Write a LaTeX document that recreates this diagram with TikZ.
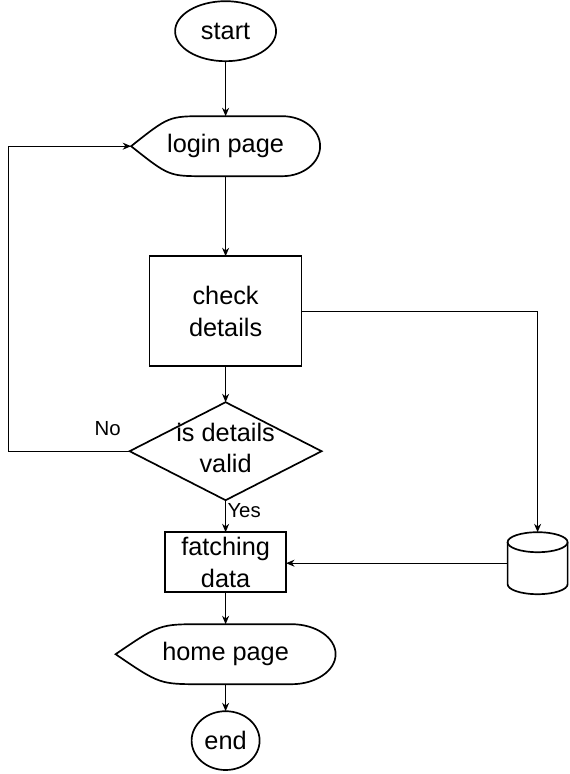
\documentclass[tikz,border=0pt]{standalone}
\usepackage{fontspec}
\setmainfont{Liberation Sans}
\usetikzlibrary{shapes.geometric,arrows.meta,positioning,calc}

\begin{document}
\begin{tikzpicture}[
  termbox/.style={draw, ellipse, line width=1.2pt, inner sep=0pt, outer sep=0pt, font=\fontsize{18}{22.5}\selectfont},
  procbox/.style={draw, rectangle, line width=1.2pt, inner sep=0pt, outer sep=0pt, align=center, font=\fontsize{18}{22.5}\selectfont},
  decisionbox/.style={draw, diamond, line width=1.2pt, inner sep=0pt, outer sep=0pt, minimum width=4.8cm, minimum height=2.45cm},
  dbbox/.style={inner sep=0pt, outer sep=0pt, minimum width=1.5cm, minimum height=1.55cm,
    append after command={\pgfextra{\pgfinterruptpath
      \draw[line width=1.2pt] ([yshift=-0.25cm]\tikzlastnode.north west) -- ([yshift=0.25cm]\tikzlastnode.south west)
        arc[start angle=180, end angle=360, x radius=0.75cm, y radius=0.25cm]
        -- ([yshift=-0.25cm]\tikzlastnode.north east);
      \draw[line width=1.2pt] ([yshift=-0.25cm]\tikzlastnode.north) ellipse[x radius=0.75cm, y radius=0.25cm];
      \endpgfinterruptpath}}},
  pagebox/.style={inner sep=0pt, outer sep=0pt, minimum width=#1, minimum height=1.5cm, font=\fontsize{18}{22.5}\selectfont,
    append after command={\pgfextra{\pgfinterruptpath
      \draw[line width=1.2pt] (\tikzlastnode.west)
        .. controls ($(\tikzlastnode.north west)!0.2!(\tikzlastnode.north east)$) .. ($(\tikzlastnode.north west)!0.39!(\tikzlastnode.north east)$)
        -- ($(\tikzlastnode.north west)!0.8!(\tikzlastnode.north east)$)
        .. controls ($(\tikzlastnode.north west)!0.91!(\tikzlastnode.north east)$) and ($(\tikzlastnode.east)!0.552!(\tikzlastnode.north east)$) .. (\tikzlastnode.east)
        .. controls ($(\tikzlastnode.east)!0.552!(\tikzlastnode.south east)$) and ($(\tikzlastnode.south west)!0.91!(\tikzlastnode.south east)$) .. ($(\tikzlastnode.south west)!0.8!(\tikzlastnode.south east)$)
        -- ($(\tikzlastnode.south west)!0.39!(\tikzlastnode.south east)$)
        .. controls ($(\tikzlastnode.south west)!0.2!(\tikzlastnode.south east)$) .. (\tikzlastnode.west) -- cycle;
      \endpgfinterruptpath}}},
  arrow/.style={-{Stealth[length=6pt,width=5pt]}, line width=0.7pt},
  edgelabel/.style={font=\fontsize{14.5}{16}\selectfont, inner sep=1pt}
]
\useasboundingbox (0,0) rectangle (14.225,-19.35);

\node[termbox, minimum width=2.525cm, minimum height=1.5cm] (start) at (5.64,-0.78) {start};
\node[pagebox=4.725cm, below=1.375cm of start] (login) {login page};
\node[procbox, minimum width=3.8cm, minimum height=2.75cm, below=2.0cm of login] (check) {check\\details};
\node[decisionbox, below=0.9cm of check] (valid) {};
\node[align=center, inner sep=0pt, font=\fontsize{18}{22}\selectfont] (validtext) at ([yshift=0.07cm]valid) {is details\\valid};
\node[procbox, minimum width=3.025cm, minimum height=1.5cm, below=0.8cm of valid] (fetch) {fatching\\data};
\node[pagebox=5.5cm, below=0.8cm of fetch] (home) {home page};
\node[termbox, minimum width=1.7cm, minimum height=1.47cm, below=0.675cm of home] (finish) {end};

\node[dbbox] (db) at (13.44,-14.08) {};
\coordinate (loopback) at (0.2,0);

\draw[arrow] (start) -- (login);
\draw[arrow] (login) -- (check);
\draw[arrow] (check) -- (valid);
\draw[arrow] (valid) -- node[edgelabel, right, pos=0.34] (yestext) {Yes} (fetch);
\draw[arrow] (fetch) -- (home);
\draw[arrow] (home) -- (finish);

% invalid details go back to the login page
\draw[arrow] (valid.west) -- node[edgelabel, above=10pt, pos=0.18] (notext) {No} (valid.west -| loopback) |- (login.west);

% database lookup
\draw[arrow] (check.east) -| (db.north);
\draw[arrow] (db.west) -- (fetch.east |- db.west);
\end{tikzpicture}
\end{document}
